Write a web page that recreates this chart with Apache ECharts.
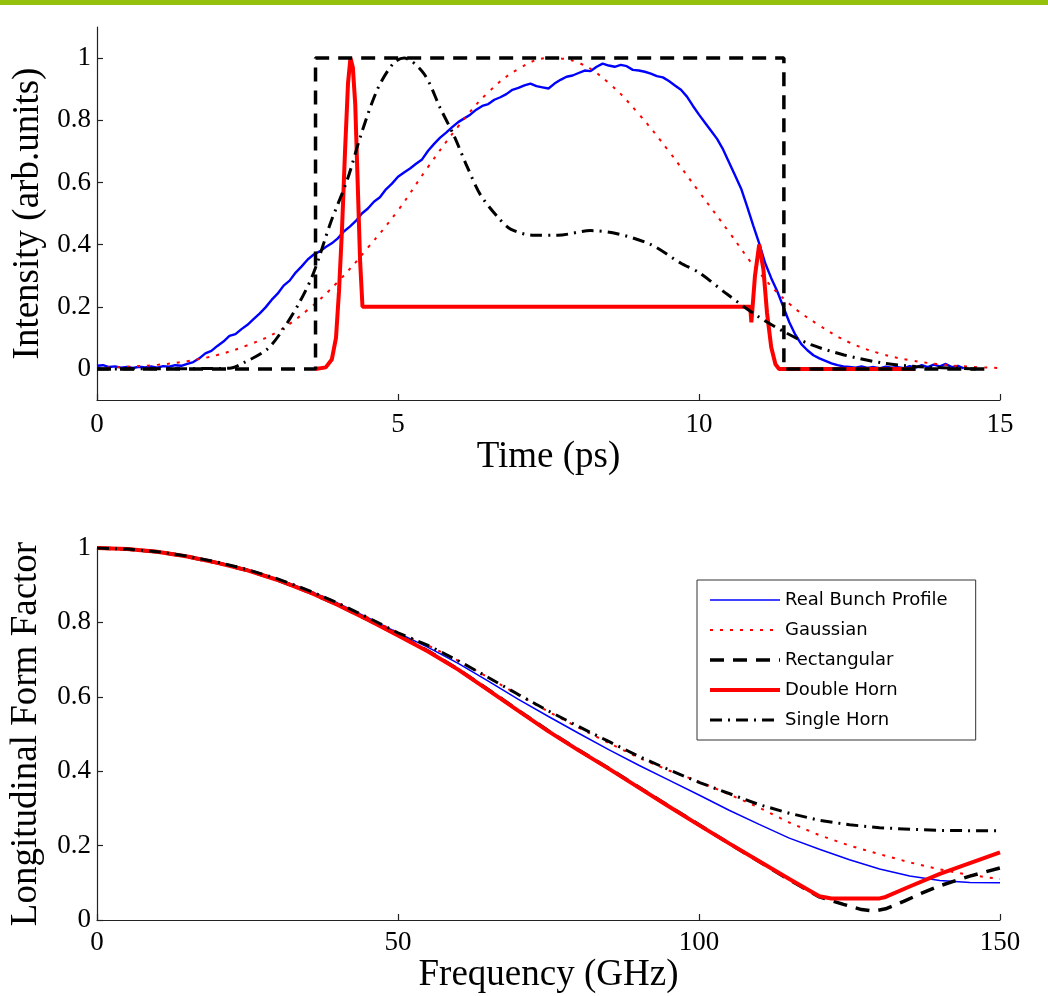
<!DOCTYPE html>
<html>
<head>
<meta charset="utf-8">
<title>Bunch profiles and longitudinal form factors</title>
<script src="https://cdn.jsdelivr.net/npm/echarts@6.0.0/dist/echarts.min.js"></script>
<style>
  html, body { margin: 0; padding: 0; background: #fff; }
  #chart { width: 1048px; height: 996px; }
</style>
</head>
<body>
<div id="chart"></div>
<script>

// ---- top panel : bunch profiles vs time (ps) ----

// measured profile, sampled every 0.1 ps from 0 to 14.4
const realTime = [];
for (let i = 0; i <= 144; i++) realTime.push(+(i * 0.1).toFixed(1));
const realIntensity = [
  0.010, 0.012, 0.006, 0.008, 0.004, 0.006, 0.003, 0.007, 0.005, 0.008,
  0.004, 0.009, 0.007, 0.012, 0.010, 0.016, 0.022, 0.034, 0.050, 0.058,
  0.074, 0.088, 0.106, 0.112, 0.128, 0.142, 0.160, 0.178, 0.198, 0.222,
  0.242, 0.268, 0.284, 0.310, 0.330, 0.352, 0.368, 0.378, 0.392, 0.404,
  0.420, 0.442, 0.458, 0.476, 0.500, 0.516, 0.538, 0.552, 0.578, 0.596,
  0.618, 0.632, 0.645, 0.660, 0.674, 0.702, 0.724, 0.744, 0.760, 0.778,
  0.794, 0.806, 0.818, 0.834, 0.846, 0.852, 0.866, 0.874, 0.884, 0.898,
  0.904, 0.912, 0.918, 0.910, 0.906, 0.902, 0.918, 0.930, 0.940, 0.944,
  0.952, 0.960, 0.958, 0.972, 0.982, 0.976, 0.972, 0.978, 0.974, 0.962,
  0.960, 0.956, 0.950, 0.942, 0.938, 0.926, 0.912, 0.898, 0.876, 0.846,
  0.818, 0.792, 0.766, 0.740, 0.706, 0.664, 0.622, 0.580, 0.522, 0.462,
  0.404, 0.340, 0.292, 0.250, 0.200, 0.150, 0.110, 0.080, 0.060, 0.044,
  0.034, 0.026, 0.018, 0.012, 0.008, 0.006, 0.004, 0.008, 0.003, 0.006,
  0.002, 0.007, 0.004, 0.006, 0.002, 0.009, 0.004, 0.012, 0.006, 0.014,
  0.008, 0.016, 0.006, 0.010, 0.002
];

const gaussTime = [0, 0.5, 1, 1.5, 2, 2.5, 3, 3.5, 4, 4.5, 5, 5.5, 6, 6.5, 7, 7.5,
  8, 8.5, 9, 9.5, 10, 10.5, 11, 11.5, 12, 12.5, 13, 13.5, 14, 14.5, 15];
const gaussIntensity = [0.003, 0.007, 0.013, 0.025, 0.045, 0.076, 0.12, 0.19, 0.28, 0.39,
  0.51, 0.65, 0.78, 0.89, 0.965, 1.0, 0.985, 0.92, 0.82, 0.70, 0.57, 0.44, 0.31, 0.21,
  0.14, 0.085, 0.05, 0.028, 0.015, 0.007, 0.003];

const rectTime = [0, 3.63, 3.63, 11.41, 11.41, 14.8];
const rectIntensity = [0, 0, 1, 1, 0, 0];

const dhTime = [3.63, 3.8, 3.9, 3.97, 4.02, 4.07, 4.12, 4.17, 4.21, 4.25, 4.29, 4.33,
  4.37, 4.41, 10.85, 10.87, 10.93, 11.0, 11.07, 11.13, 11.2, 11.27, 11.33, 13.6];
const dhIntensity = [0, 0.005, 0.03, 0.1, 0.25, 0.45, 0.7, 0.92, 1.0, 0.97, 0.85, 0.6,
  0.35, 0.2, 0.2, 0.15, 0.3, 0.4, 0.32, 0.18, 0.07, 0.015, 0, 0];

const shTime = [0, 2.2, 2.44, 2.83, 3.1, 3.38, 3.6, 3.88, 4.16, 4.38, 4.66, 4.93, 5.1,
  5.43, 5.7, 5.93, 6.15, 6.37, 6.65, 6.87, 7.26, 7.65, 8.2, 8.64, 9.2, 9.7, 10.0,
  10.47, 10.97, 11.41, 11.86, 12.41, 13.02, 13.6, 14.6];
const shIntensity = [0, 0.002, 0.02, 0.064, 0.13, 0.22, 0.31, 0.47, 0.61, 0.75, 0.9,
  0.985, 1.0, 0.95, 0.84, 0.75, 0.65, 0.56, 0.49, 0.45, 0.43, 0.43, 0.445, 0.435, 0.40,
  0.34, 0.31, 0.24, 0.17, 0.12, 0.078, 0.045, 0.02, 0.008, 0];

const intensityTicks = [0, 0.2, 0.4, 0.6, 0.8, 1];

// ---- bottom panel : form factor vs frequency (GHz) ----

const freq = [0, 5, 10, 15, 20, 25, 30, 35, 40, 45, 50, 55, 60, 65, 70, 75, 80, 85, 90,
  95, 100, 105, 110, 115, 120, 125, 130, 135, 140, 145, 150];
const realFF = [1, 0.997, 0.99, 0.978, 0.962, 0.942, 0.917, 0.887, 0.852, 0.813, 0.772,
  0.733, 0.69, 0.642, 0.593, 0.547, 0.502, 0.458, 0.416, 0.376, 0.336, 0.295, 0.257,
  0.22, 0.19, 0.162, 0.137, 0.118, 0.106, 0.101, 0.1];
const gaussFF = [1, 0.997, 0.99, 0.978, 0.962, 0.942, 0.917, 0.887, 0.852, 0.813, 0.772,
  0.738, 0.697, 0.652, 0.605, 0.56, 0.517, 0.476, 0.436, 0.402, 0.372, 0.338, 0.302,
  0.262, 0.228, 0.2, 0.177, 0.155, 0.136, 0.121, 0.11];
const shFF = [1, 0.997, 0.99, 0.978, 0.962, 0.942, 0.917, 0.887, 0.852, 0.813, 0.772,
  0.738, 0.697, 0.652, 0.606, 0.562, 0.52, 0.48, 0.44, 0.404, 0.37, 0.34, 0.31,
  0.287, 0.268, 0.256, 0.248, 0.244, 0.241, 0.24, 0.24];

const dhFreq = [0, 5, 10, 15, 20, 25, 30, 35, 40, 45, 50, 55, 60, 65, 70, 75, 80, 85, 90,
  95, 100, 105, 110, 115, 120, 122, 130, 131, 135, 140, 145, 150];
const dhFF = [1, 0.997, 0.99, 0.977, 0.96, 0.94, 0.914, 0.883, 0.847, 0.807, 0.765,
  0.722, 0.673, 0.618, 0.562, 0.507, 0.456, 0.407, 0.356, 0.305, 0.255, 0.206, 0.158,
  0.11, 0.064, 0.058, 0.058, 0.062, 0.09, 0.124, 0.153, 0.182];

const rectFreq = [0, 5, 10, 15, 20, 25, 30, 35, 40, 45, 50, 55, 60, 65, 70, 75, 80, 85, 90,
  95, 100, 105, 110, 115, 120, 124, 127, 129, 131, 134, 137, 140, 145, 150];
const rectFF = [1, 0.997, 0.99, 0.977, 0.96, 0.94, 0.914, 0.883, 0.847, 0.807, 0.766,
  0.723, 0.674, 0.619, 0.563, 0.508, 0.457, 0.408, 0.357, 0.306, 0.256, 0.206, 0.157,
  0.108, 0.062, 0.042, 0.028, 0.024, 0.03, 0.05, 0.072, 0.092, 0.118, 0.14];

const ffTicks = [0, 0.2, 0.4, 0.6, 0.8, 1];

const legendNames = ['Real Bunch Profile', 'Gaussian', 'Rectangular', 'Double Horn', 'Single Horn'];

// ---- styles ----
const serif = "'Liberation Serif', 'Times New Roman', serif";
const axisColor = '#222';

const styles = {
  'Real Bunch Profile': { color: '#0000ff', width: 2.4, type: 'solid' },
  'Gaussian': { color: '#ff0000', width: 2, type: [3, 7] },
  'Rectangular': { color: '#000000', width: 3.5, type: [14, 9] },
  'Double Horn': { color: '#ff0000', width: 4, type: 'solid' },
  'Single Horn': { color: '#000000', width: 3, type: [12, 6, 2, 6] }
};

const zip = (xs, ys) => xs.map((x, i) => [x, ys[i]]);

function makeSeries(name, data, idx, override) {
  const st = Object.assign({}, styles[name], override || {});
  return {
    name: name,
    type: 'line',
    xAxisIndex: idx,
    yAxisIndex: idx,
    data: data,
    showSymbol: false,
    symbol: 'none',
    smooth: false,
    color: st.color,
    lineStyle: { color: st.color, width: st.width, type: st.type, cap: 'butt' },
    emphasis: { disabled: true },
    silent: true
  };
}

function xAxisOf(idx, max, step, title, gap, labelMargin) {
  return {
    gridIndex: idx,
    type: 'value',
    min: 0,
    max: max,
    interval: step,
    name: title,
    nameLocation: 'middle',
    nameGap: gap,
    nameTextStyle: { fontFamily: serif, fontSize: 37, color: '#000' },
    axisLine: { show: true, onZero: false, lineStyle: { color: axisColor, width: 1.2 } },
    axisTick: { show: true, inside: true, length: 6, lineStyle: { color: axisColor, width: 1.2 } },
    axisLabel: { fontFamily: serif, fontSize: 27, color: '#000', margin: labelMargin },
    splitLine: { show: false }
  };
}

function yAxisOf(idx, min, max, ticks, title, gap) {
  return {
    gridIndex: idx,
    type: 'value',
    min: min,
    max: max,
    name: title,
    nameLocation: 'middle',
    nameGap: gap,
    nameTextStyle: { fontFamily: serif, fontSize: 37, color: '#000' },
    axisLine: { show: true, onZero: false, lineStyle: { color: axisColor, width: 1.2 } },
    axisTick: { show: true, inside: true, length: 6, customValues: ticks,
      lineStyle: { color: axisColor, width: 1.2 } },
    axisLabel: { customValues: ticks, fontFamily: serif, fontSize: 27, color: '#000', margin: 6 },
    splitLine: { show: false }
  };
}

const chart = echarts.init(document.getElementById('chart'), null, { renderer: 'canvas' });

chart.setOption({
  animation: false,
  backgroundColor: '#ffffff',
  graphic: [
    { type: 'rect', left: 0, top: 0, shape: { width: 1048, height: 5 }, style: { fill: '#96c00e' } }
  ],
  grid: [
    { left: 97, top: 27, width: 903, height: 373 },
    { left: 97, top: 548, width: 903, height: 372 }
  ],
  xAxis: [
    xAxisOf(0, 15, 5, 'Time (ps)', 37, 11),
    xAxisOf(1, 150, 50, 'Frequency (GHz)', 35, 9)
  ],
  yAxis: [
    yAxisOf(0, -0.1, 1.1, intensityTicks, 'Intensity (arb.units)', 42),
    yAxisOf(1, 0, 1, ffTicks, 'Longitudinal Form Factor', 52)
  ],
  legend: {
    data: legendNames,
    orient: 'vertical',
    left: 697,
    top: 580,
    itemWidth: 70,
    itemHeight: 14,
    itemGap: 12,
    padding: [11, 28, 11, 11],
    backgroundColor: '#fff',
    borderColor: '#333',
    borderWidth: 1,
    selectedMode: false,
    textStyle: { fontFamily: "'DejaVu Sans', sans-serif", fontSize: 18, color: '#000' },
    itemStyle: { opacity: 0 },
    lineStyle: { width: 'inherit' }
  },
  series: [
    // bottom panel first so the legend takes its line styles
    makeSeries('Real Bunch Profile', zip(freq, realFF), 1, { width: 1.5 }),
    makeSeries('Gaussian', zip(freq, gaussFF), 1),
    makeSeries('Rectangular', zip(rectFreq, rectFF), 1),
    makeSeries('Double Horn', zip(dhFreq, dhFF), 1),
    makeSeries('Single Horn', zip(freq, shFF), 1),

    makeSeries('Real Bunch Profile', zip(realTime, realIntensity), 0),
    Object.assign(makeSeries('Gaussian', zip(gaussTime, gaussIntensity), 0), { smooth: 0.4 }),
    makeSeries('Double Horn', zip(dhTime, dhIntensity), 0),
    makeSeries('Rectangular', zip(rectTime, rectIntensity), 0),
    Object.assign(makeSeries('Single Horn', zip(shTime, shIntensity), 0), { smooth: 0.3 })
  ]
});

</script>
</body>
</html>
